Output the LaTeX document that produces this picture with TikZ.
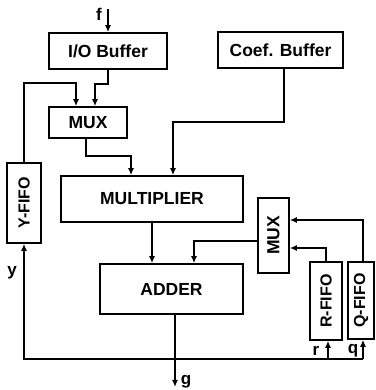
\documentclass[tikz,border=0pt]{standalone}
\usepackage{fontspec}
\setmainfont{Liberation Sans}
\usetikzlibrary{arrows.meta}
\begin{document}
\begin{tikzpicture}[x=1pt,y=1pt,
  blk/.style={draw,line width=1.6pt,inner sep=0pt,font=\fontsize{17.5}{20}\selectfont\bfseries},
  vblk/.style={draw,line width=1.6pt,inner sep=0pt,font=\fontsize{16}{18}\selectfont\bfseries},
  lab/.style={inner sep=0pt,font=\fontsize{17}{19}\selectfont\bfseries},
  wire/.style={line width=1.6pt},
  arr/.style={line width=1.6pt,-{Latex[length=7pt,width=6pt]}}]
\useasboundingbox (0,0) rectangle (375,390);
% blocks
\node[blk,minimum width=118pt,minimum height=36pt] (io) at (108,339) {I/O Buffer};
\node[blk,minimum width=125pt,minimum height=36pt] (coef) at (280.5,340) {Coef. Buffer};
\node[blk,minimum width=78pt,minimum height=31pt] (muxa) at (88,267.5) {MUX};
\node[blk,minimum width=182pt,minimum height=46pt] (mult) at (152,191) {MULTIPLIER};
\node[blk,minimum width=143pt,minimum height=50pt] (add) at (171.5,101) {ADDER};
\node[blk,minimum width=31pt,minimum height=75pt] (muxb) at (273.5,154.5) {\rotatebox{90}{MUX}};
\node[vblk,minimum width=34pt,minimum height=80pt] (yfifo) at (24,187) {\rotatebox{90}{Y-FIFO}};
\node[vblk,minimum width=32pt,minimum height=78pt] (rfifo) at (326,89) {\rotatebox{90}{R-FIFO}};
\node[vblk,minimum width=26pt,minimum height=77pt] (qfifo) at (361,89.5) {\rotatebox{90}{Q-FIFO}};
% labels
\node[lab] (flab) at (99,376) {f};
\node[lab] (ylab) at (12,117) {y};
\node[lab] (rlab) at (316,39) {r};
\node[lab] (qlab) at (353,39) {q};
\node[lab] (glab) at (186,8) {g};
% coordinates
\coordinate (fin) at (108,381);
\coordinate (gout) at (175,3);
\coordinate (j) at (175,31);
\coordinate (jr) at (363,31);
% connectors
\draw[arr] (fin) -- (io.north);
\draw[arr] (io.south) -- ++(0,-14) -| ([xshift=7pt]muxa.north);
\draw[arr] (yfifo.north) -- (24,307) -| ([xshift=-12pt]muxa.north);
\draw[arr] ([xshift=-2pt]muxa.south) -- ++(0,-17) -| ([xshift=-21pt]mult.north);
\draw[arr] ([xshift=3.5pt]coef.south) -- ++(0,-53) -| ([xshift=21pt]mult.north);
\draw[arr] (mult.south) -- (mult.south |- add.north);
\draw[arr] ([yshift=-5.5pt]muxb.west) -| ([xshift=22.5pt]add.north);
\draw[arr] ([xshift=2pt]qfifo.north) |- ([yshift=15.5pt]muxb.east);
\draw[arr] (rfifo.north) |- ([yshift=-12.5pt]muxb.east);
\draw[arr] ([xshift=3.5pt]add.south) -- (gout);
\draw[arr] (j) -| (yfifo.south);
\draw[wire] (j) -- (jr);
\draw[arr] ([xshift=2pt]rfifo.south |- j) -- ([xshift=2pt]rfifo.south);
\draw[arr] (jr) -- ([xshift=2pt]qfifo.south);
\end{tikzpicture}
\end{document}
